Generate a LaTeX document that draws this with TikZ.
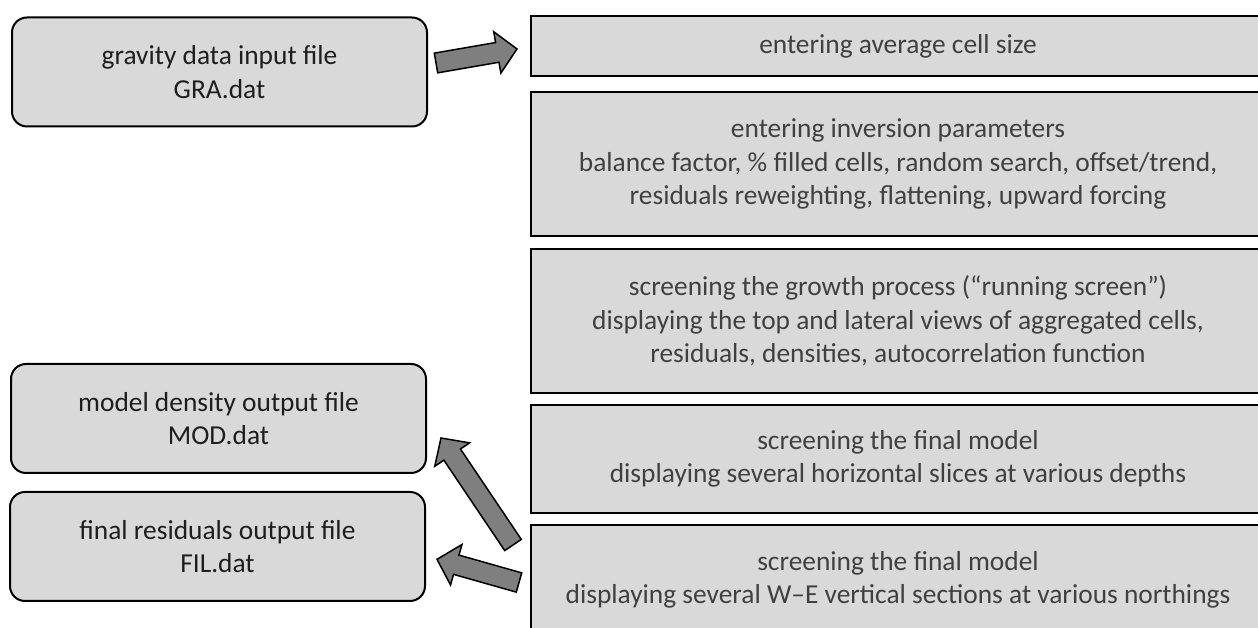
\documentclass[tikz,border=0pt]{standalone}
\usepackage{fontspec}
\setmainfont{Carlito}
\usetikzlibrary{calc}
\definecolor{boxfill}{HTML}{D9D9D9}
\definecolor{arrfill}{HTML}{7F7F7F}
\definecolor{txtgray}{HTML}{404040}
\definecolor{txtdark}{HTML}{1E1E1E}
\newcommand\blockarrow[2]{%
  \coordinate (hb) at ($(#2)!20pt!(#1)$);
  \draw[blockarr] ($(#1)!10pt!90:(#2)$) -- ($(hb)!10pt!-90:(#1)$) -- ($(hb)!21pt!-90:(#1)$) -- (#2)
    -- ($(hb)!21pt!90:(#1)$) -- ($(hb)!10pt!90:(#1)$) -- ($(#1)!10pt!-90:(#2)$) -- cycle;
}
\begin{document}
\begin{tikzpicture}[x=1pt,y=1pt,
  txt/.style={font=\fontsize{27.4}{33.4}\selectfont, align=center, inner sep=0pt},
  filebox/.style={txt, draw=black, line width=2pt, fill=boxfill, rounded corners=15pt,
    minimum width=415pt, minimum height=109pt, text=txtdark},
  stagebox/.style={txt, draw=black, line width=2.5pt, fill=boxfill,
    minimum width=734pt, text=txtgray},
  blockarr/.style={draw=black, line width=1.5pt, fill=arrfill, line join=miter}]
\useasboundingbox (0,0) rectangle (1258,628);
\clip (0,0) rectangle (1258,628);
% left file boxes
\node[filebox] (gra) at (219.5,556) {gravity data input file\\GRA.dat};
\node[filebox] (mod) at (218.5,209.5) {model density output file\\MOD.dat};
\node[filebox] (fil) at (217.5,81.5) {final residuals output file\\FIL.dat};
% right stage boxes
\node[stagebox, minimum height=60pt] (s1) at (898,582) {entering average cell size};
\node[stagebox, minimum height=144pt] (s2) at (898,464) {entering inversion parameters\\balance factor, \% filled cells, random search, offset/trend,\\residuals reweighting, flattening, upward forcing};
\node[stagebox, minimum height=144pt] (s3) at (898,307) {screening the growth process (“running screen”)\\displaying the top and lateral views of aggregated cells,\\residuals, densities, autocorrelation function};
\node[stagebox, minimum height=108pt] (s4) at (898,169) {screening the final model\\displaying several horizontal slices at various depths};
\node[stagebox, minimum height=110pt] (s5) at (898,48) {screening the final model\\displaying several W–E vertical sections at various northings};
% arrow end points
\coordinate (a1s) at (436,565);
\coordinate (a1e) at (517,579);
\coordinate (a2s) at (513,83);
\coordinate (a2e) at (441,190);
\coordinate (a3s) at (519,45.5);
\coordinate (a3e) at (437,68.7);
\blockarrow{a1s}{a1e}
\blockarrow{a2s}{a2e}
\blockarrow{a3s}{a3e}
\end{tikzpicture}
\end{document}
